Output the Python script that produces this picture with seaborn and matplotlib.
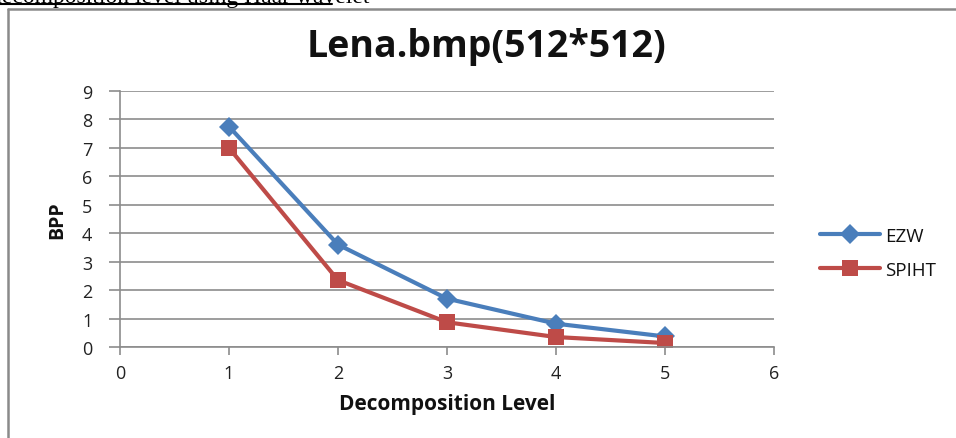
import matplotlib
matplotlib.use("Agg")
import matplotlib.pyplot as plt
import seaborn as sns
import pandas as pd

levels = [1, 2, 3, 4, 5]
ezw = [7.75, 3.6, 1.7, 0.82, 0.37]
spiht = [7.0, 2.35, 0.87, 0.35, 0.14]
series_names = ["EZW", "SPIHT"]
x_ticks = [0, 1, 2, 3, 4, 5, 6]
y_ticks = [0, 1, 2, 3, 4, 5, 6, 7, 8, 9]

df = pd.DataFrame({
    "Level": levels * 2,
    "BPP": ezw + spiht,
    "Method": [series_names[0]] * len(levels) + [series_names[1]] * len(levels),
})

sns.set_theme(style="white")
plt.rcParams['font.family'] = ['Open Sans', 'DejaVu Sans']

fig = plt.figure(figsize=(9.56, 4.39), dpi=100)
ax = fig.add_axes([120/956, 1-348/439, (774-120)/956, (348-92)/439])

palette = {"EZW": "#4a7ebb", "SPIHT": "#be4b48"}
sns.lineplot(data=df, x="Level", y="BPP", hue="Method", style="Method",
             markers={"EZW": "D", "SPIHT": "s"}, dashes=False,
             palette=palette, linewidth=3, markersize=11, markeredgewidth=0,
             ax=ax, legend=True)
for line in ax.lines:
    if line.get_marker() == "D":
        line.set_markersize(10)
    elif line.get_marker() == "s":
        line.set_markersize(12)

ax.set_xlim(0, 6)
ax.set_ylim(0, 9)
ax.set_xticks(x_ticks)
ax.set_yticks(y_ticks)
ax.set_xticklabels([str(v) for v in x_ticks], fontsize=13, color="#222222")
ax.set_yticklabels([str(v) for v in y_ticks], fontsize=13, color="#222222")
ax.yaxis.grid(True, color="#8c8c8c", linewidth=1.2)
ax.xaxis.grid(False)
ax.set_axisbelow(True)
for s in ["top", "right"]:
    ax.spines[s].set_visible(False)
for s in ["left", "bottom"]:
    ax.spines[s].set_color("#8c8c8c")
    ax.spines[s].set_linewidth(1.2)
ax.tick_params(axis="y", direction="out", length=8, width=1.2, color="#8c8c8c", pad=12, left=True)
ax.tick_params(axis="x", direction="out", length=6, width=1.2, color="#8c8c8c", pad=6, bottom=True)

ax.set_xlabel("Decomposition Level", fontsize=15, fontweight="bold", color="#111111")
ax.set_ylabel("BPP", fontsize=14, fontweight="bold", color="#111111")
ax.xaxis.set_label_coords((447-120)/654, -(405-348)/256)
ax.yaxis.set_label_coords(-(120-57)/654, 0.5)
ax.xaxis.label.set_va("center")
ax.yaxis.label.set_va("center")

fig.text(487/956, 1-47/439, "Lena.bmp(512*512)", fontsize=27, fontweight="bold",
         ha="center", va="center", color="#111111")

leg = ax.legend(loc="center left", bbox_to_anchor=(803/956, 1-254/439),
                bbox_transform=fig.transFigure, frameon=False, fontsize=13.5,
                handlelength=3.2, labelspacing=0.85, handletextpad=0.3)
for t in leg.get_texts():
    t.set_color("#111111")

# page fragment: clipped caption and chart border
fig.text(-0.01, 1-(-2)/439, "decomposition level using Haar wavelet", family="Liberation Serif",
         fontsize=17, ha="left", va="center", color="black")
fig.add_artist(plt.Line2D([0, 332/956], [1-5/439, 1-5/439], color="black", lw=1.5, transform=fig.transFigure))
fig.add_artist(plt.Line2D([8/956, 8/956], [0, 1-10/439], color="#8a8a8a", lw=1.8, transform=fig.transFigure))
fig.add_artist(plt.Line2D([8/956, 1], [1-10/439, 1-10/439], color="#8a8a8a", lw=1.8, transform=fig.transFigure))

fig.savefig("out.png", dpi=100)
